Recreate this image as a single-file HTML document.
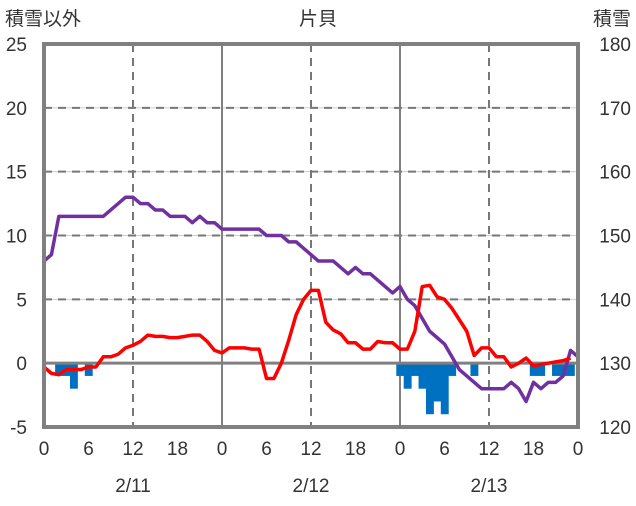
<!DOCTYPE html>
<html><head><meta charset="utf-8"><style>
body{margin:0;background:#fff;}
svg text{font-family:"Liberation Sans","Noto Sans CJK JP",sans-serif;font-size:19px;fill:#333;}
</style></head><body>
<svg width="636" height="501">
<g id="grid"></g>
<g id="bars"></g>
<g id="lines"></g>
<g id="labels"></g>
<text x="5" y="25">積雪以外</text>
<text x="318" y="25" text-anchor="middle">片貝</text>
<text x="631" y="25" text-anchor="end">積雪</text>
</svg>
<script>
const leftTicks=[25,20,15,10,5,0,-5];
const rightTicks=[180,170,160,150,140,130,120];
const xTickLabels=["0","6","12","18","0","6","12","18","0","6","12","18","0"];
const dateLabels=["2/11","2/12","2/13"];
const redSeries=[-0.3,-0.8,-0.9,-0.5,-0.5,-0.5,-0.3,-0.3,0.5,0.5,0.7,1.2,1.4,1.7,2.2,2.1,2.1,2.0,2.0,2.1,2.2,2.2,1.7,1.0,0.8,1.2,1.2,1.2,1.1,1.1,-1.2,-1.2,0,1.8,3.8,5,5.7,5.7,3.2,2.6,2.3,1.6,1.6,1.1,1.1,1.7,1.6,1.6,1.1,1.1,2.5,6,6.1,5.2,5,4.3,3.4,2.5,0.6,1.2,1.2,0.5,0.5,-0.3,0,0.4,-0.2,-0.1,0,0.1,0.2,0.4];
const snowDepth=[146,147,153,153,153,153,153,153,153,154,155,156,156,155,155,154,154,153,153,153,152,153,152,152,151,151,151,151,151,151,150,150,150,149,149,148,147,146,146,146,145,144,145,144,144,143,142,141,142,140,139,137,135,134,133,131,129,128,127,126,126,126,126,127,126,124,127,126,127,127,128,132,131];
const snowfall=[0,0,-1,-1,-2,0,-1,0,0,0,0,0,0,0,0,0,0,0,0,0,0,0,0,0,0,0,0,0,0,0,0,0,0,0,0,0,0,0,0,0,0,0,0,0,0,0,0,0,-1,-2,-1,-2,-4,-3,-4,-1,0,0,-1,0,0,0,0,0,0,0,-1,-1,0,-1,-1,-1];
const X0=44,X1=578,Y0=44,Y1=427;
const xs=h=>X0+(X1-X0)*h/72;
const yl=v=>Y1-(v+5)/30*(Y1-Y0);
const yr=v=>Y1-(v-120)/60*(Y1-Y0);
const NS="http://www.w3.org/2000/svg";
function mk(p,t,a){const e=document.createElementNS(NS,t);for(const k in a)e.setAttribute(k,a[k]);p.appendChild(e);return e;}
const grid=document.getElementById('grid');
[20,15,10,5].forEach(v=>{
 let l=mk(grid,'line',{x1:X0,x2:X1,y1:yl(v),y2:yl(v),stroke:'#ccc','stroke-width':1});
 
 
 let d=mk(grid,'line',{x1:X0,x2:X1,y1:yl(v),y2:yl(v),stroke:'#777','stroke-width':2,'stroke-dasharray':'8,6'});
 
 
});
[12,36,60].forEach(h=>{
 let d=mk(grid,'line',{x1:xs(h),x2:xs(h),y1:Y0,y2:Y1,stroke:'#777','stroke-width':2,'stroke-dasharray':'8,6'});
 
 
});
[24,48].forEach(h=>{
 let d=mk(grid,'line',{x1:xs(h),x2:xs(h),y1:Y0,y2:Y1,stroke:'#808080','stroke-width':2});
 
 
});
const bars=document.getElementById('bars');
const bw=(X1-X0)/72;
snowfall.forEach((v,h)=>{ if(!v)return;
 let r=mk(bars,'rect',{x:xs(h)-bw/2,y:yl(0),width:bw+0.5,height:yl(v)-yl(0),fill:'#0070C0'});
 
 
});
let z=mk(grid.parentNode,'line',{x1:X0,x2:X1,y1:yl(0),y2:yl(0),stroke:'#808080','stroke-width':3});


const lines=document.getElementById('lines');
lines.parentNode.appendChild(lines);
let pp=mk(lines,'polyline',{points:snowDepth.map((v,h)=>xs(h)+','+yr(v)).join(' '),fill:'none',stroke:'#7030A0','stroke-width':3.5,'stroke-linejoin':'round'});


let rp=mk(lines,'polyline',{points:redSeries.map((v,h)=>xs(h)+','+yl(v)).join(' '),fill:'none',stroke:'#FF0000','stroke-width':3.5,'stroke-linejoin':'round'});


let fr=mk(lines,'rect',{x:X0,y:Y0,width:X1-X0,height:Y1-Y0,fill:'none',stroke:'#808080','stroke-width':4});


const lab=document.getElementById('labels');
leftTicks.forEach(v=>{let t=mk(lab,'text',{x:27,y:yl(v)+7,'text-anchor':'end'});t.textContent=v;
 
 });
rightTicks.forEach(v=>{let t=mk(lab,'text',{x:631,y:yr(v)+7,'text-anchor':'end'});t.textContent=v;
 
 });
xTickLabels.forEach((s,i)=>{let t=mk(lab,'text',{x:xs(i*6),y:455,'text-anchor':'middle'});t.textContent=s;
 
 });
dateLabels.forEach((s,i)=>{let t=mk(lab,'text',{x:xs(12+i*24),y:492,'text-anchor':'middle'});t.textContent=s;
 
 });
</script>
</body></html>
